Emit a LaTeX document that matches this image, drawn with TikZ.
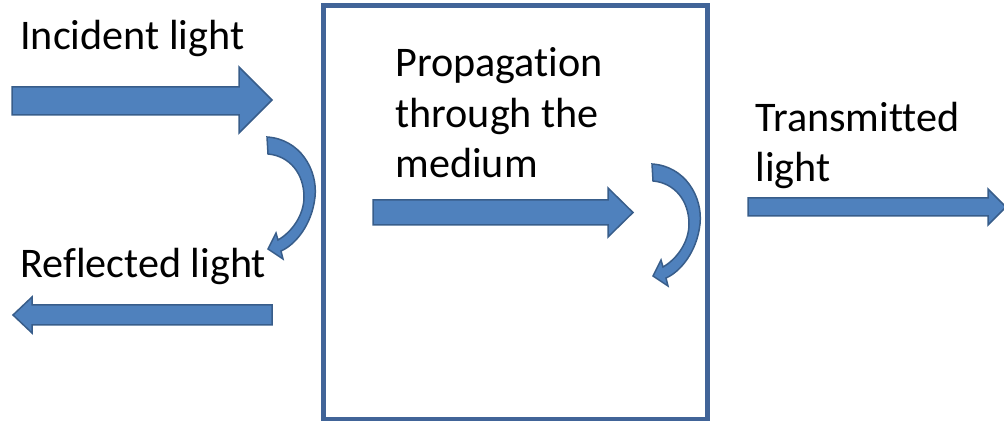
\documentclass[tikz,border=0pt]{standalone}
\usepackage{fontspec}
\setmainfont{Carlito}[Ligatures=NoCommon]
\usepackage{xcolor}
\usepackage{tikz}

\definecolor{arrowfill}{RGB}{79,129,189}
\definecolor{arrowline}{RGB}{56,93,138}
\definecolor{boxline}{RGB}{65,100,152}

\tikzset{
  blockarrow/.style={fill=arrowfill, draw=arrowline, line width=0.3mm, line join=miter},
  lbl/.style={inner sep=0pt, font=\fontsize{24}{29}\selectfont}
}

\begin{document}
\begin{tikzpicture}[x=0.2mm,y=-0.2mm]
			\useasboundingbox (0,0) rectangle (1004,424);
			
			\draw[boxline, line width=0.9mm] (323.5,5.5) rectangle (707.5,419);
			
			% straight arrows
			\filldraw[blockarrow] (12,87) -- (239,87) -- (239,67) -- (272,100) -- (239,133) -- (239,115) -- (12,115) -- cycle;
			\filldraw[blockarrow] (272,305) -- (32,305) -- (32,297) -- (13,315) -- (32,333) -- (32,325) -- (272,325) -- cycle;
			\filldraw[blockarrow] (373,200) -- (608,200) -- (608,188) -- (633,212.5) -- (608,237) -- (608,225) -- (373,225) -- cycle;
			\filldraw[blockarrow] (748,198) -- (988,198) -- (988,189) -- (1006,207) -- (988,225) -- (988,216) -- (748,216) -- cycle;
			
			% curved arrows
			\foreach \dx/\dy in {0/0, 385/27} {
				\begin{scope}[shift={(\dx,\dy)}]
					\filldraw[blockarrow] (267,137) .. controls (300,139) and (318,170) .. (315,197)
						.. controls (312,225) and (295,245) .. (281,251)
						-- (283,259) -- (268,249) -- (276,233) -- (278,240)
						.. controls (292,232) and (304,215) .. (304,197)
						.. controls (304,174) and (290,156) .. (268,154) -- cycle;
				\end{scope}
			}
			
			\node[lbl, anchor=base west] (incident) at (20,50) {Incident light};
			\node[lbl, anchor=base west] (reflected) at (20,278) {Reflected light};
			\node[lbl, anchor=base west, align=left] (prop) at (395,178) {Propagation\\through the\\medium};
			\node[lbl, anchor=base west, align=left] (trans) at (755,182) {Transmitted\\light};
		\end{tikzpicture}
\end{document}
